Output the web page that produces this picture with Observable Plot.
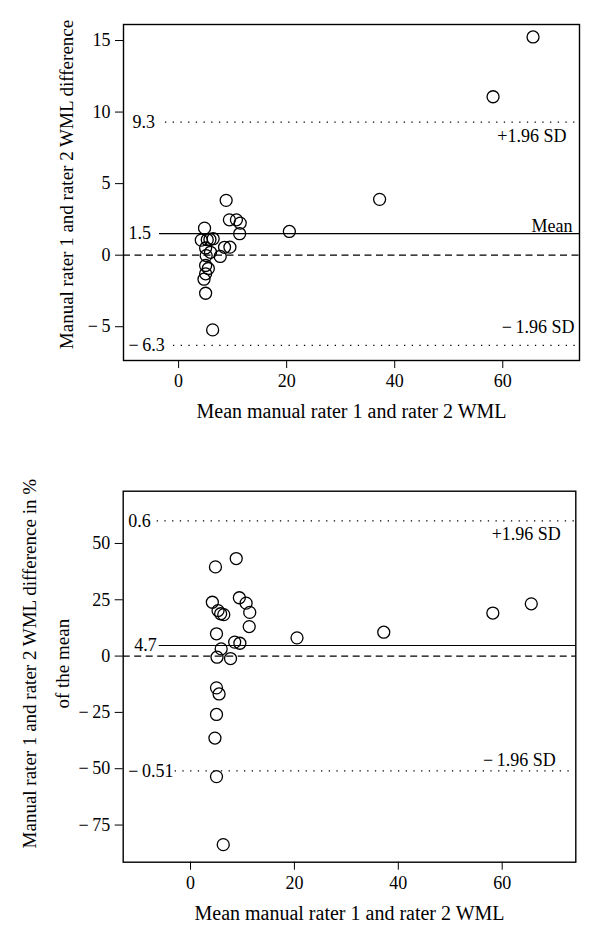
<!DOCTYPE html>
<html>
<head>
<meta charset="utf-8">
<script src="https://cdn.jsdelivr.net/npm/d3@7"></script>
<script src="https://cdn.jsdelivr.net/npm/@observablehq/plot@0.6"></script>
<style>
  html, body { margin: 0; padding: 0; background: #fff; }
  #chart { width: 600px; }
  #chart svg { display: block; }
</style>
</head>
<body>
<div id="chart"></div>
<script>
// ---- data ----
const meanWML = [65.6, 58.2, 37.2, 20.5, 8.8, 9.4, 10.7, 11.4, 11.3, 4.8, 4.2, 5.3, 5.8, 6.4, 5.0, 8.5, 9.5, 5.9, 5.1, 7.7, 5.0, 5.5, 5.0, 4.7, 5.0, 6.3];
const diffWML = [15.25, 11.07, 3.9, 1.66, 3.83, 2.47, 2.47, 2.24, 1.5, 1.89, 1.05, 1.08, 1.1, 1.15, 0.5, 0.55, 0.56, 0.2, -0.03, -0.09, -0.72, -0.93, -1.3, -1.68, -2.66, -5.22];
const diffPct = [23.2, 19.1, 10.6, 8.1, 43.3, 25.9, 23.5, 19.4, 13.1, 39.6, 23.9, 20.2, 18.8, 18.4, 9.9, 6.2, 5.7, 3.2, -0.5, -1.1, -14.1, -16.8, -25.9, -36.4, -53.5, -83.7];

const xTicks = [0, 20, 40, 60];
const topYTicks = [-5, 0, 5, 10, 15];
const bottomYTicks = [-75, -50, -25, 0, 25, 50];

// limit lines: upper (+1.96 SD), mean, lower (-1.96 SD)
const topLimitValues = [9.3, 1.5, -6.3];
const topLimitLabels = ["9.3", "1.5", "\u2212\u20096.3"];
const bottomLimitValues = [60, 4.7, -51];
const bottomLimitLabels = ["0.6", "4.7", "\u2212\u20090.51"];

const xTitle = "Mean manual rater 1 and rater 2 WML";
const topYTitle = "Manual rater 1 and rater 2 WML difference";
const bottomYTitle = "Manual rater 1 and rater 2 WML difference in %\nof the mean";

const FONT = "'Liberation Serif', 'DejaVu Serif', serif";
const fmt = d => d < 0 ? "\u2212\u2009" + Math.abs(d) : String(d);

const topPts = meanWML.map((m, i) => ({x: m, y: diffWML[i]}));
const botPts = meanWML.map((m, i) => ({x: m, y: diffPct[i]}));

function panel(opts) {
  const {pts, height, margins, xDomain, yDomain, yTicks, lim, limLabels, leftDx, showMean,
         upperLab, lowerLab, meanLab, insets, yTitle, yTitleDx, yTitleDy, xTitleDy} = opts;
  const limData = lim.map((v, i) => ({v, label: limLabels[i], dx: leftDx[i], inset: insets[i]}));
  return Plot.plot({
    width: 600,
    height,
    marginLeft: margins[0], marginRight: margins[1], marginTop: margins[2], marginBottom: margins[3],
    style: {fontFamily: FONT, fontSize: "18px", color: "black", background: "white", overflow: "visible"},
    x: {domain: xDomain, label: null},
    y: {domain: yDomain, label: null},
    marks: [
      Plot.axisX({ticks: xTicks, tickSize: 8, tickPadding: 6, label: null, fontSize: 18}),
      Plot.axisY({ticks: yTicks, tickSize: 8, tickPadding: 5, label: null, tickFormat: fmt, fontSize: 18}),
      Plot.ruleY([0], {stroke: "black", strokeWidth: 1.2, strokeDasharray: "7,4.5"}),
      Plot.ruleY([limData[0]], {y: "v", insetLeft: limData[0].inset, stroke: "black", strokeWidth: 1.3, strokeDasharray: "1.3,6.4"}),
      Plot.ruleY([limData[1]], {y: "v", insetLeft: limData[1].inset, stroke: "black", strokeWidth: 1.2}),
      Plot.ruleY([limData[2]], {y: "v", insetLeft: limData[2].inset, stroke: "black", strokeWidth: 1.3, strokeDasharray: "1.3,6.4"}),
      ...limData.map(d => Plot.text([d], {y: "v", text: "label", frameAnchor: "left", textAnchor: "start", dx: d.dx, fill: "black"})),
      Plot.text([lim[0]], {y: d => d, text: () => upperLab.text, frameAnchor: "right", textAnchor: "end", dx: -upperLab.dx, dy: upperLab.dy, fill: "black"}),
      Plot.text([lim[2]], {y: d => d, text: () => lowerLab.text, frameAnchor: "right", textAnchor: "end", dx: -lowerLab.dx, dy: lowerLab.dy, fill: "black"}),
      ...(showMean ? [Plot.text([lim[1]], {y: d => d, text: () => meanLab.text, frameAnchor: "right", textAnchor: "end", dx: -meanLab.dx, dy: meanLab.dy, fill: "black"})] : []),
      Plot.dot(pts, {x: "x", y: "y", r: 6, stroke: "black", strokeWidth: 1.3, fill: "none"}),
      Plot.frame({stroke: "black", strokeWidth: 1.4}),
      Plot.text([xTitle], {text: d => d, frameAnchor: "bottom", textAnchor: "middle", dy: xTitleDy, lineAnchor: "middle", fontSize: 20, fill: "black"}),
      Plot.text([yTitle], {text: d => d, frameAnchor: "left", textAnchor: "middle", rotate: -90, dx: yTitleDx, dy: yTitleDy, lineAnchor: "middle", lineHeight: 1.7, fontSize: 19, fill: "black"})
    ]
  });
}

const topPanel = panel({
  pts: topPts,
  height: 470,
  margins: [123, 21, 24, 110],
  xDomain: [-10.2, 74.2],
  yDomain: [-7.36, 16.12],
  yTicks: topYTicks,
  lim: topLimitValues,
  limLabels: topLimitLabels,
  leftDx: [9, 5, 5],
  insets: [42, 36, 50],
  showMean: true,
  upperLab: {text: "+1.96 SD", dx: 13, dy: 14},
  meanLab: {text: "Mean", dx: 7, dy: -7},
  lowerLab: {text: "\u2212\u20091.96 SD", dx: 5, dy: -18},
  yTitle: topYTitle,
  yTitleDx: -61,
  yTitleDy: -8,
  xTitleDy: 51
});

const bottomPanel = panel({
  pts: botPts,
  height: 477,
  margins: [122.7, 24.7, 20.7, 85.3],
  xDomain: [-12.96, 74.17],
  yDomain: [-91.5, 73.2],
  yTicks: bottomYTicks,
  lim: bottomLimitValues,
  limLabels: bottomLimitLabels,
  leftDx: [5, 11, 5],
  insets: [34, 36, 52],
  showMean: false,
  upperLab: {text: "+1.96 SD", dx: 15, dy: 13},
  meanLab: {text: "Mean", dx: 7, dy: -7},
  lowerLab: {text: "\u2212\u20091.96 SD", dx: 20, dy: -11},
  yTitle: bottomYTitle,
  yTitleDx: -81,
  yTitleDy: -13,
  xTitleDy: 51
});

document.getElementById("chart").append(topPanel, bottomPanel);
</script>
</body>
</html>
